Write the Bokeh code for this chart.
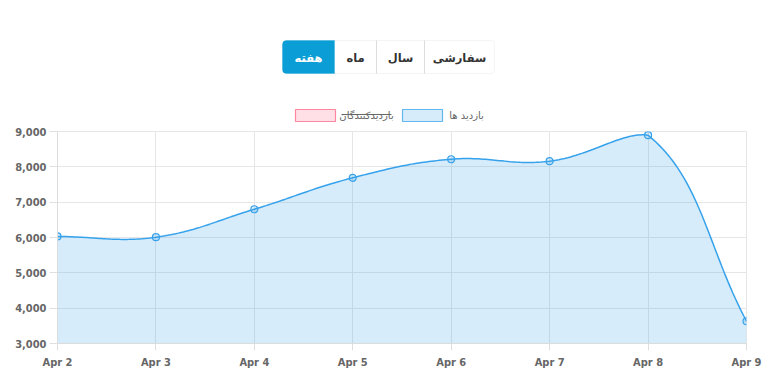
import numpy as np
from bokeh.plotting import figure
from bokeh.models import Range1d, FixedTicker, NumeralTickFormatter, BoxAnnotation
from bokeh.layouts import column
from bokeh.embed import file_html
from bokeh.resources import INLINE
from bokeh.core.properties import value

# ---------------- data ----------------
dates = ["Apr 2", "Apr 3", "Apr 4", "Apr 5", "Apr 6", "Apr 7", "Apr 8", "Apr 9"]
visits = [6030, 6010, 6800, 7690, 8215, 8160, 8895, 3630]
y_ticks = [3000, 4000, 5000, 6000, 7000, 8000, 9000]
buttons = ["هفته", "ماه", "سال", "سفارشی"]          # left to right
active_button = "هفته"
legend_labels = ["بازدیدکنندگان", "بازدید ها"]       # first one is hidden (struck)

BLUE = "#36a2eb"
PINK = "#ff6384"
TICK_FONT = "DejaVu Sans Condensed"
FA_FONT = "DejaVu Sans"

W = 777
ML, MR = 57, 31          # frame left / right borders (shared by both figures)
HH = 123                 # header height
CH = 387 - HH            # chart height
MT, MB = 8, 44

# ---------------- header (buttons + legend) ----------------
h = figure(width=W, height=HH, x_range=Range1d(ML, W - MR), y_range=Range1d(0, HH),
           output_backend="svg", toolbar_location=None,
           min_border_left=ML, min_border_right=MR, min_border_top=0, min_border_bottom=0,
           x_axis_location=None, y_axis_location=None)
h.grid.visible = False
h.outline_line_color = None

def py(page_y):
    return HH - page_y

edges = [282, 334, 376, 424, 494]
b_top, b_bot = py(40), py(73)
h.add_layout(BoxAnnotation(left=edges[0], right=edges[-1], top=b_top, bottom=b_bot,
                           fill_color="white", fill_alpha=1, line_color="#d9d9d9",
                           line_width=1, border_radius=4, level="underlay"))
ai = buttons.index(active_button)
h.add_layout(BoxAnnotation(left=edges[ai], right=edges[ai + 1], top=b_top, bottom=b_bot,
                           fill_color="#0b9ed6", fill_alpha=1, line_color="#0b9ed6",
                           line_width=1, level="underlay",
                           border_radius=dict(top_left=4, bottom_left=4, top_right=0, bottom_right=0)))
div_x = [edges[i] for i in range(1, len(edges) - 1) if i != ai and i != ai + 1]
h.segment(x0=div_x, y0=[b_top] * len(div_x), x1=div_x, y1=[b_bot] * len(div_x),
          line_color="#dcdcdc", line_width=1)
centers = [(edges[i] + edges[i + 1]) / 2 for i in range(len(buttons))]
h.text(x=centers, y=[py(57)] * len(buttons), text=buttons,
       text_color=["white" if b == active_button else "#333333" for b in buttons],
       text_align="center", text_baseline="middle",
       text_font=value(FA_FONT), text_font_style="bold", text_font_size="11.5px")

# legend
lg_top, lg_bot = py(109), py(121)
h.quad(left=[295, 402], right=[335, 442], top=[lg_top] * 2, bottom=[lg_bot] * 2,
       fill_color=[PINK, BLUE], fill_alpha=0.2, line_color=[PINK, BLUE], line_alpha=0.75,
       line_width=1.2)
lx = [366, 466]
h.text(x=lx, y=[py(115)] * 2, text=legend_labels, text_color="#666666",
       text_align="center", text_baseline="middle",
       text_font=value(FA_FONT), text_font_size="10px")
h.segment(x0=[341], y0=[py(114)], x1=[391], y1=[py(114)], line_color="#666666", line_width=1)

# ---------------- chart ----------------
FW, FH = W - ML - MR, CH - MT - MB
p = figure(width=W, height=CH, x_range=Range1d(0, len(dates) - 1),
           y_range=Range1d(y_ticks[0], y_ticks[-1]),
           output_backend="svg", toolbar_location=None,
           min_border_left=ML, min_border_right=MR, min_border_top=MT, min_border_bottom=MB)

# Chart.js style cubic spline (tension 0.4), computed in pixel space
xs = np.arange(len(visits), dtype=float)
ys = np.array(visits, dtype=float)
x0, x1 = p.x_range.start, p.x_range.end
y0, y1 = p.y_range.start, p.y_range.end
px = (xs - x0) / (x1 - x0) * FW
pyy = (y1 - ys) / (y1 - y0) * FH
n = len(xs)
cp_prev, cp_next = [], []
t = 0.4
for i in range(n):
    pr = i - 1 if i > 0 else 0
    nx = i + 1 if i < n - 1 else n - 1
    d01 = np.hypot(px[i] - px[pr], pyy[i] - pyy[pr])
    d12 = np.hypot(px[nx] - px[i], pyy[nx] - pyy[i])
    s = d01 + d12
    s01 = d01 / s if s else 0
    s12 = d12 / s if s else 0
    fa, fb = t * s01, t * s12
    dx, dy = px[nx] - px[pr], pyy[nx] - pyy[pr]
    a = (np.clip(px[i] - fa * dx, 0, FW), np.clip(pyy[i] - fa * dy, 0, FH))
    b = (np.clip(px[i] + fb * dx, 0, FW), np.clip(pyy[i] + fb * dy, 0, FH))
    cp_prev.append(a)
    cp_next.append(b)
cx, cy = [], []
tt = np.linspace(0, 1, 40)
for i in range(n - 1):
    P0 = (px[i], pyy[i]); P3 = (px[i + 1], pyy[i + 1])
    P1 = cp_next[i]; P2 = cp_prev[i + 1]
    bx = (1 - tt) ** 3 * P0[0] + 3 * (1 - tt) ** 2 * tt * P1[0] + 3 * (1 - tt) * tt ** 2 * P2[0] + tt ** 3 * P3[0]
    by = (1 - tt) ** 3 * P0[1] + 3 * (1 - tt) ** 2 * tt * P1[1] + 3 * (1 - tt) * tt ** 2 * P2[1] + tt ** 3 * P3[1]
    cx.extend(bx.tolist()); cy.extend(by.tolist())
cx = np.array(cx) / FW * (x1 - x0) + x0
cy = y1 - np.array(cy) / FH * (y1 - y0)

p.varea(x=cx, y1=[y0] * len(cx), y2=cy, fill_color=BLUE, fill_alpha=0.2)
p.line(x=cx, y=cy, line_color=BLUE, line_width=1.5)
p.scatter(x=xs, y=ys, size=7, marker="circle", fill_color=BLUE, fill_alpha=0.2,
          line_color=BLUE, line_width=1.2)

# axes
p.yaxis.ticker = FixedTicker(ticks=y_ticks)
p.yaxis.formatter = NumeralTickFormatter(format="0,0")
p.xaxis.ticker = FixedTicker(ticks=list(range(len(dates))))
p.xaxis.major_label_overrides = {i: d for i, d in enumerate(dates)}
for ax in (p.xaxis, p.yaxis):
    ax.axis_line_color = "#dcdcdc"
    ax.major_tick_line_color = "#e0e0e0"
    ax.minor_tick_line_color = None
    ax.major_tick_in = 0
    ax.major_label_text_font = TICK_FONT
    ax.major_label_text_font_style = "bold"
    ax.major_label_text_font_size = "11px"
    ax.major_label_text_color = "#666666"
p.yaxis.major_tick_out = 8
p.yaxis.major_label_standoff = 3
p.xaxis.major_tick_out = 7
p.xaxis.major_label_standoff = 5
p.xgrid.ticker = FixedTicker(ticks=list(range(len(dates))))
p.ygrid.ticker = FixedTicker(ticks=y_ticks)
p.grid.grid_line_color = "#e6e6e6"
p.outline_line_color = "#e6e6e6"

layout = column(h, p, spacing=0)
open("out.html", "w").write(file_html(layout, INLINE))
